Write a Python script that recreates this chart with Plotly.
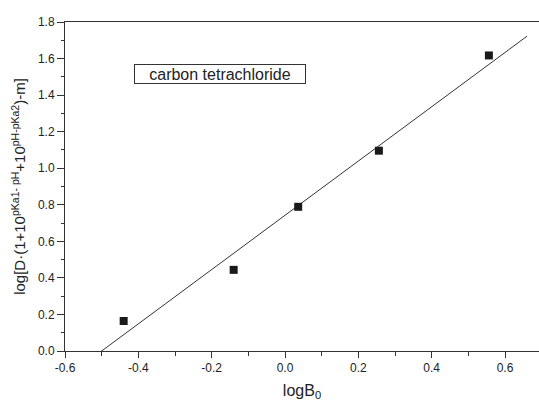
import numpy as np
import plotly.graph_objects as go

# data
log_b0 = [-0.44, -0.14, 0.036, 0.256, 0.556]
log_d = [0.164, 0.444, 0.789, 1.096, 1.617]
fit_x_range = [-0.6, 0.66]

x_tickvals = [-0.6, -0.4, -0.2, 0.0, 0.2, 0.4, 0.6]
x_ticktext = ["-0.6", "-0.4", "-0.2", "0.0", "0.2", "0.4", "0.6"]
y_tickvals = [0.0, 0.2, 0.4, 0.6, 0.8, 1.0, 1.2, 1.4, 1.6, 1.8]
y_ticktext = ["0.0", "0.2", "0.4", "0.6", "0.8", "1.0", "1.2", "1.4", "1.6", "1.8"]

slope, intercept = np.polyfit(log_b0, log_d, 1)
fx = np.array(fit_x_range)
fy = slope * fx + intercept

FONT = "Liberation Sans, Arial, sans-serif"
INK = "#222222"

fig = go.Figure()
fig.add_trace(go.Scatter(x=fx, y=fy, mode="lines",
                         line=dict(color="#333333", width=1), showlegend=False))
fig.add_trace(go.Scatter(x=log_b0, y=log_d, mode="markers",
                         marker=dict(symbol="square", size=8, color="#1a1a1a",
                                     line=dict(width=0)),
                         showlegend=False, cliponaxis=False))

fig.add_annotation(x=-0.177, y=1.517, xref="x", yref="y",
                   text="carbon tetrachloride", showarrow=False,
                   font=dict(family=FONT, size=16, color=INK),
                   bordercolor="#333333", borderwidth=1, borderpad=1,
                   width=168, height=16, bgcolor="white")

fig.update_layout(
    width=539, height=401,
    margin=dict(l=65, r=0, t=22, b=50),
    paper_bgcolor="white", plot_bgcolor="white",
    font=dict(family=FONT, color=INK),
    xaxis=dict(range=[-0.6, 0.6927], showgrid=False, zeroline=False,
               showline=True, linecolor="#333333", linewidth=1, mirror=True,
               ticks="outside", ticklen=6, tickcolor="#333333",
               tickvals=x_tickvals, ticktext=x_ticktext,
               tickfont=dict(family=FONT, size=12, color=INK),
               minor=dict(dtick=0.1, tick0=0, ticks="outside", ticklen=4,
                          tickcolor="#333333"),
               title=dict(text="logB<sub>0</sub>", standoff=10,
                          font=dict(family=FONT, size=16, color=INK))),
    yaxis=dict(range=[0, 1.8], showgrid=False, zeroline=False,
               showline=True, linecolor="#333333", linewidth=1, mirror=False,
               ticks="outside", ticklen=7, tickcolor="#333333",
               tickvals=y_tickvals, ticktext=y_ticktext,
               tickfont=dict(family=FONT, size=12, color=INK),
               minor=dict(dtick=0.1, tick0=0, ticks="outside", ticklen=3,
                          tickcolor="#333333"),
               title=dict(text="log[D·(1+10<sup>pKa1- pH</sup>+10<sup>pH-pKa2</sup>)-m]",
                          standoff=8,
                          font=dict(family=FONT, size=15, color=INK))),
)

fig.write_html("out.html")
